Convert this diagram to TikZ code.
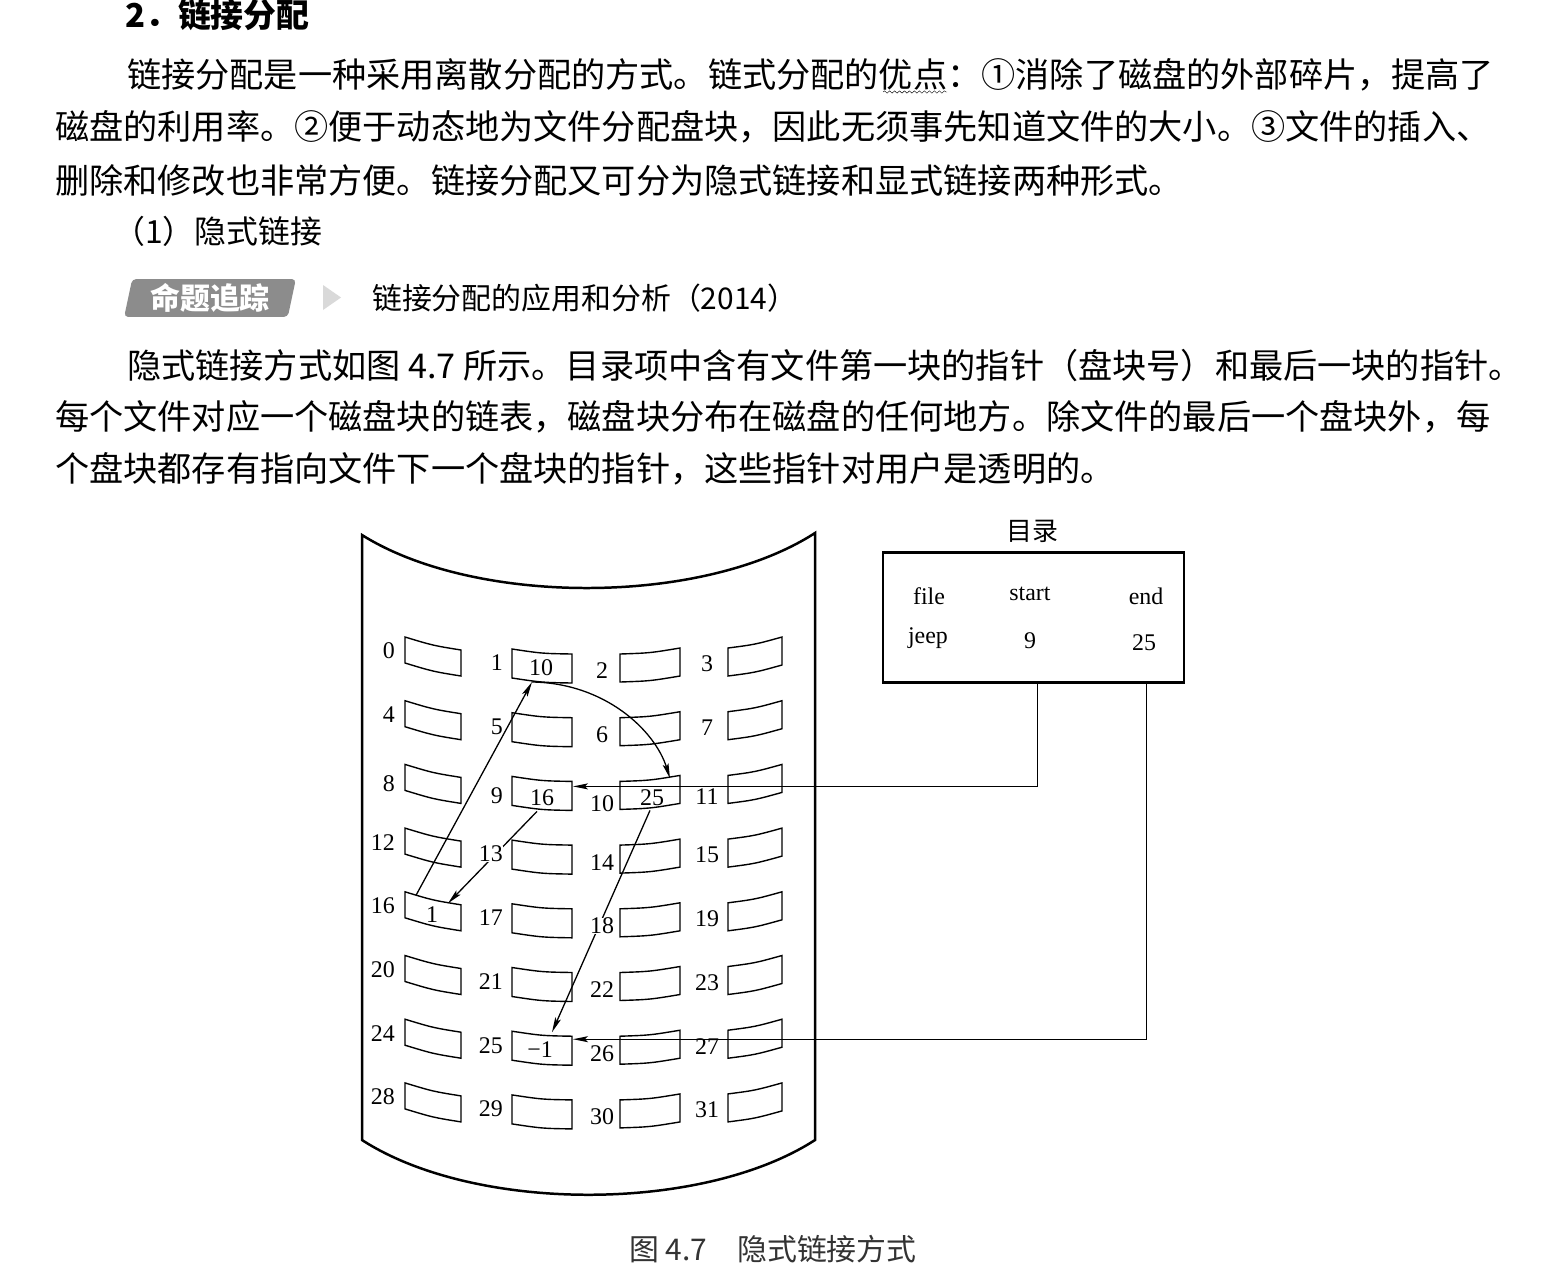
\documentclass[tikz,border=0pt]{standalone}
\usepackage{fontspec}
\setmainfont{Liberation Serif}
\newfontfamily\cjk{Noto Sans CJK SC}
\usetikzlibrary{arrows.meta,calc,shapes.geometric,decorations.pathmorphing}
\tikzset{
  txt/.style={anchor=west, inner sep=0pt, font=\cjk\fontsize{34.3}{40}\selectfont},
  lbl/.style={inner sep=0pt, font=\fontsize{24}{24}\selectfont},
  cut/.style={fill=white},
  n13/.style={cut}, n18/.style={cut},
  num/.style={inner sep=0pt, font=\fontsize{24}{24}\selectfont},
  blk/.style={line width=1.4pt},
  ptr/.style={line width=1.3pt, -{Stealth[length=15pt,width=6pt,inset=3pt]}},
}
\begin{document}
\begin{tikzpicture}[x=1bp,y=-1bp]
\fill[white] (0,0) rectangle (1547,1278);
\useasboundingbox (0,0) rectangle (1547,1278);
% text above the figure
\node[txt, font=\cjk\bfseries\fontsize{33}{33}\selectfont] (h2) at (125,15) {2．链接分配};
\node[txt] (p1) at (127,75) {链接分配是一种采用离散分配的方式。链式分配的优点：①消除了磁盘的外部碎片，提高了};
\node[txt] (p2) at (55,127) {磁盘的利用率。②便于动态地为文件分配盘块，因此无须事先知道文件的大小。③文件的插入、};
\node[txt] (p3) at (55,180) {删除和修改也非常方便。链接分配又可分为隐式链接和显式链接两种形式。};
\node[txt, font=\cjk\fontsize{32}{32}\selectfont] (p4) at (113,231) {（1）隐式链接};
\draw[decorate, decoration={snake, amplitude=1.2pt, segment length=5pt}] (883,92) -- (947,92);
\node[trapezium, trapezium left angle=78, trapezium right angle=102, fill=black!45, rounded corners=4pt,
  minimum width=168, minimum height=38, inner sep=0pt, text=white,
  font=\cjk\bfseries\fontsize{30}{30}\selectfont] (tag) at (210,298) {命题追踪};
\fill[black!15] (323,285) -- (341,297.5) -- (323,310) -- cycle;
\node[txt, font=\cjk\fontsize{30}{30}\selectfont] (topic) at (372,298) {链接分配的应用和分析（2014）};
\node[txt] (p5) at (127,366) {隐式链接方式如图 4.7 所示。目录项中含有文件第一块的指针（盘块号）和最后一块的指针。};
\node[txt] (p6) at (55,417) {每个文件对应一个磁盘块的链表，磁盘块分布在磁盘的任何地方。除文件的最后一个盘块外，每};
\node[txt] (p7) at (55,469) {个盘块都存有指向文件下一个盘块的指针，这些指针对用户是透明的。};
% disk
\draw[line width=2.5pt] (362,535) .. controls (475,606) and (702,606) .. (815,533) -- (815,1140)
  .. controls (702,1213) and (475,1213) .. (362,1140) -- cycle;
\foreach \c/\xl/\xr/\yl/\yr/\h/\lx/\ly/\la in {0/405/461/637/650/26/395/651/east,
    1/512/572/649/654/29/503/663/east, 2/620/680/654/648/28/602/671/center,
    3/728/782/648/637/28/707/664/center}
  \foreach \r in {0,...,7}{
    \pgfmathsetmacro\dy{63.7*\r}
    \pgfmathtruncatemacro\bn{4*\r+\c}
    \draw[blk] (\xl,{\yl+\dy}) .. controls ({(\xl+\xr)/2},{(\yl+\yr)/2+\dy+2}) .. (\xr,{\yr+\dy})
      -- (\xr,{\yr+\dy+\h}) .. controls ({(\xl+\xr)/2},{(\yl+\yr)/2+\dy+\h+2}) .. (\xl,{\yl+\dy+\h}) -- cycle;
    \coordinate (b\bn) at ({(\xl+\xr)/2},{(\yl+\yr)/2+\dy+\h/2+1});
  }
% directory
\node[font=\cjk\fontsize{26}{26}\selectfont, inner sep=0pt] (dtitle) at (1032,531) {目录};
\node[draw, line width=2.8pt, minimum width=302, minimum height=130, inner sep=0pt] (dir) at (1033.5,617.5) {};
\node[num] (hf) at (929,596) {file};
\node[num] (hs) at (1030,594) {start};
\node[num] (he) at (1146,596) {end};
\node[num] (vf) at (928,638) {jeep};
\node[num] (vs) at (1030,641) {9};
\node[num] (ve) at (1144,643) {25};
% pointers
\draw[ptr] ($(dir.south west)+(155.5,0)$) |- ($(b9)+(31,-8)$);
\draw[ptr] ($(b9)+(-5,17)$) -- ($(b16)+(15,-9)$);
\draw[ptr] ($(b16)+(-17,-17)$) -- ($(b1)+(-10,15)$);
\draw[ptr] ($(b1)+(-10,15)$) .. controls +(73,1) and +(-15,-48) .. ($(b10)+(20,-15)$);
\draw[ptr] ($(b10)+(0,17)$) -- ($(b25)+(10,-17)$);
\draw[ptr] ($(dir.south west)+(264.5,0)$) |- ($(b25)+(31,-10)$);
% block numbers
\foreach \c/\lx/\ly/\la in {0/395/651/east, 1/503/663/east, 2/602/671/center, 3/707/664/center}
  \foreach \r in {0,...,7}{
    \pgfmathtruncatemacro\bn{4*\r+\c}
    \pgfmathsetmacro\ry{\ly+63.7*\r+(\r==2)*5}
    \node[lbl, anchor=\la, n\bn/.try] (n\bn) at (\lx,\ry) {\bn};
  }
\node[num] (c1) at ($(b1)+(-1,1)$) {10};
\node[num] (c9) at ($(b9)+(0,3)$) {16};
\node[num] (c10) at ($(b10)+(2,4)$) {25};
\node[num] (c16) at ($(b16)+(-1,2)$) {1};
\node[num] (c25) at ($(b25)+(-2,0)$) {−1};
% caption
\node[font=\cjk\fontsize{30}{30}\selectfont, text=black!80, inner sep=0pt] (cap) at (773,1249) {图 4.7\hspace{1em}隐式链接方式};
\end{tikzpicture}
\end{document}
